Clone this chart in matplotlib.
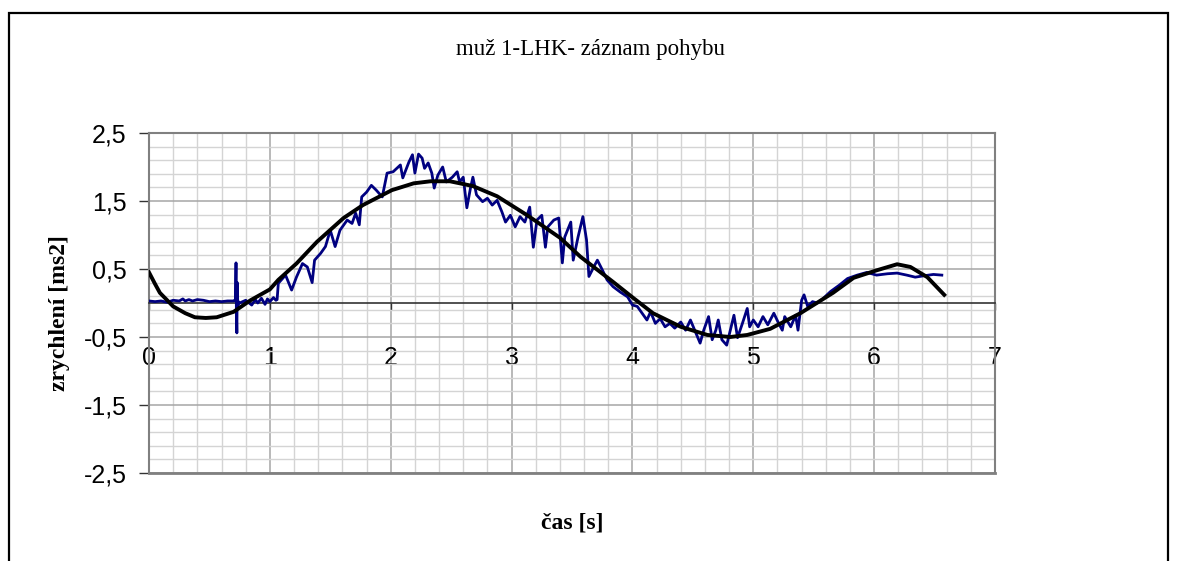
import numpy as np
import matplotlib
matplotlib.use("Agg")
import matplotlib.pyplot as plt
from matplotlib.ticker import FixedLocator, FuncFormatter
from matplotlib.patches import Rectangle

# -----------------------------
# DATA
# -----------------------------
TITLE = "muž 1-LHK- záznam pohybu"
XLABEL = "čas [s]"
YLABEL = "zrychlení [ms2]"

# measured acceleration (blue, noisy)
t_meas = [0.00, 0.05, 0.10, 0.15, 0.20, 0.25, 0.28, 0.30, 0.33, 0.36, 0.40, 0.45,
          0.50, 0.55, 0.60, 0.65, 0.70, 0.715, 0.72, 0.723, 0.727, 0.73, 0.735, 0.74,
          0.75, 0.80, 0.85, 0.88, 0.90, 0.93, 0.96, 0.98, 1.00, 1.03, 1.05, 1.06,
          1.07, 1.13, 1.18, 1.22, 1.27, 1.31, 1.35, 1.37, 1.42, 1.46, 1.50, 1.54,
          1.58, 1.64, 1.68, 1.71, 1.74, 1.76, 1.80, 1.84, 1.88, 1.93, 1.97, 2.02,
          2.08, 2.10, 2.15, 2.18, 2.20, 2.23, 2.26, 2.28, 2.31, 2.34, 2.36, 2.39,
          2.43, 2.46, 2.51, 2.55, 2.57, 2.60, 2.63, 2.66, 2.68, 2.71, 2.76, 2.80,
          2.84, 2.88, 2.92, 2.95, 2.99, 3.03, 3.07, 3.11, 3.15, 3.18, 3.21, 3.25,
          3.28, 3.30, 3.35, 3.39, 3.42, 3.44, 3.49, 3.51, 3.55, 3.59, 3.62, 3.64,
          3.68, 3.71, 3.75, 3.79, 3.84, 3.90, 3.96, 4.00, 4.04, 4.08, 4.12, 4.15,
          4.19, 4.23, 4.27, 4.31, 4.35, 4.40, 4.44, 4.48, 4.52, 4.56, 4.59, 4.63,
          4.66, 4.69, 4.71, 4.74, 4.78, 4.81, 4.84, 4.87, 4.91, 4.95, 4.97, 5.00,
          5.04, 5.08, 5.12, 5.17, 5.21, 5.24, 5.26, 5.31, 5.35, 5.37, 5.40, 5.42,
          5.45, 5.49, 5.53, 5.58, 5.64, 5.71, 5.78, 5.86, 5.94, 6.02, 6.11, 6.19,
          6.27, 6.34, 6.41, 6.49, 6.56]
a_meas = [0.03, 0.02, 0.03, 0.01, 0.04, 0.03, 0.06, 0.03, 0.05, 0.03, 0.05, 0.04,
          0.02, 0.03, 0.02, 0.03, 0.03, 0.05, 0.59, -0.10, -0.44, 0.30, -0.05, 0.02,
          0.00, 0.04, -0.03, 0.05, 0.00, 0.07, -0.02, 0.06, 0.02, 0.08, 0.04, 0.05,
          0.29, 0.41, 0.19, 0.38, 0.58, 0.53, 0.30, 0.63, 0.73, 0.83, 1.07, 0.83,
          1.07, 1.22, 1.17, 1.32, 1.15, 1.56, 1.63, 1.73, 1.66, 1.56, 1.91, 1.93,
          2.03, 1.84, 2.07, 2.18, 1.91, 2.19, 2.13, 1.98, 2.06, 1.91, 1.69, 1.88,
          2.00, 1.78, 1.85, 1.93, 1.78, 1.85, 1.40, 1.69, 1.85, 1.59, 1.49, 1.54,
          1.44, 1.51, 1.34, 1.19, 1.29, 1.12, 1.27, 1.19, 1.41, 0.82, 1.22, 1.29,
          0.82, 1.12, 1.22, 1.25, 0.59, 0.97, 1.19, 0.63, 0.97, 1.27, 0.93, 0.39,
          0.53, 0.63, 0.49, 0.34, 0.24, 0.16, 0.09, -0.03, -0.05, -0.15, -0.25, -0.13,
          -0.30, -0.23, -0.35, -0.30, -0.37, -0.28, -0.40, -0.25, -0.42, -0.59, -0.40, -0.20,
          -0.54, -0.40, -0.25, -0.54, -0.62, -0.40, -0.18, -0.51, -0.30, -0.08, -0.35, -0.25,
          -0.35, -0.20, -0.32, -0.15, -0.30, -0.40, -0.20, -0.35, -0.18, -0.40, 0.04, 0.12,
          -0.05, 0.02, 0.00, 0.07, 0.17, 0.26, 0.36, 0.41, 0.45, 0.41, 0.43, 0.44,
          0.41, 0.38, 0.40, 0.42, 0.41]

# smoothed / fitted curve (black)
t_fit = [0.00, 0.05, 0.09, 0.20, 0.30, 0.38, 0.47, 0.56, 0.70, 0.84, 1.00, 1.07,
         1.22, 1.39, 1.61, 1.77, 2.01, 2.19, 2.33, 2.49, 2.68, 2.88, 3.13, 3.40,
         3.57, 3.84, 4.01, 4.17, 4.40, 4.62, 4.81, 4.95, 5.14, 5.39, 5.66, 5.83,
         6.02, 6.19, 6.30, 6.44, 6.58]
a_fit = [0.45, 0.28, 0.15, -0.05, -0.15, -0.21, -0.22, -0.21, -0.13, 0.04, 0.20, 0.34,
         0.58, 0.90, 1.25, 1.44, 1.66, 1.76, 1.79, 1.79, 1.72, 1.57, 1.29, 0.96,
         0.68, 0.31, 0.07, -0.15, -0.35, -0.47, -0.50, -0.47, -0.38, -0.15, 0.15, 0.37,
         0.48, 0.57, 0.53, 0.38, 0.12]

# -----------------------------
# FIGURE
# -----------------------------
W, H = 1178, 561
fig = plt.figure(figsize=(W / 100, H / 100), dpi=100)
fig.patch.set_facecolor("white")

# outer chart frame
fig.patches.append(Rectangle((9 / W, -0.05), (1168 - 9) / W, 1.05 - 13 / H,
                             transform=fig.transFigure, fill=False,
                             edgecolor="black", linewidth=1.6))

ax = fig.add_axes([149 / W, 1 - 473 / H, (995 - 149) / W, (473 - 133) / H])
ax.set_xlim(0, 7)
ax.set_ylim(-2.5, 2.5)

# grid
ax.xaxis.set_major_locator(FixedLocator(np.arange(0, 7.01, 1)))
ax.xaxis.set_minor_locator(FixedLocator(np.arange(0, 7.01, 0.2)))
ax.yaxis.set_major_locator(FixedLocator(np.arange(-2.5, 2.51, 1)))
ax.yaxis.set_minor_locator(FixedLocator(np.arange(-2.5, 2.51, 0.2)))
ax.grid(which="minor", color="#d4d4d4", linewidth=1.0)
ax.grid(which="major", color="#a6a6a6", linewidth=1.1)
ax.set_axisbelow(True)

for s in ["top", "right", "left"]:
    ax.spines[s].set_color("#808080")
    ax.spines[s].set_linewidth(1.5)
ax.spines["bottom"].set_position(("data", 0))
ax.spines["bottom"].set_color("#333333")
ax.spines["bottom"].set_linewidth(1.2)
ax.axhline(-2.5, color="#808080", linewidth=2.0, clip_on=False, zorder=1)

ax.tick_params(axis="x", which="major", direction="out", length=5, width=1,
               color="#333333", pad=26, labelsize=18)
ax.tick_params(axis="y", which="major", direction="out", length=7, width=1,
               color="#333333", pad=9, labelsize=18)
ax.tick_params(which="minor", length=0)
for lbl in ax.get_xticklabels() + ax.get_yticklabels():
    lbl.set_fontfamily("Liberation Sans")

ax.xaxis.set_major_formatter(FuncFormatter(lambda v, p: f"{v:g}"))
ax.yaxis.set_major_formatter(FuncFormatter(lambda v, p: f"{v:.1f}".replace(".", ",")))

# series
ax.plot(t_meas, a_meas, color="#000080", linewidth=2.0, zorder=3)
ax.plot(t_fit, a_fit, color="black", linewidth=2.8, zorder=4)

# texts
fig.text(590 / W, 1 - 50 / H, TITLE, ha="center", va="center",
         fontsize=16.5, family="Liberation Serif")
fig.text(572 / W, 1 - 523 / H, XLABEL, ha="center", va="center",
         fontsize=17, family="Liberation Serif", fontweight="bold")
fig.text(60 / W, 1 - 313 / H, YLABEL, ha="center", va="center", rotation=90,
         fontsize=17, family="Liberation Serif", fontweight="bold")

fig.savefig("out.png", dpi=100)
